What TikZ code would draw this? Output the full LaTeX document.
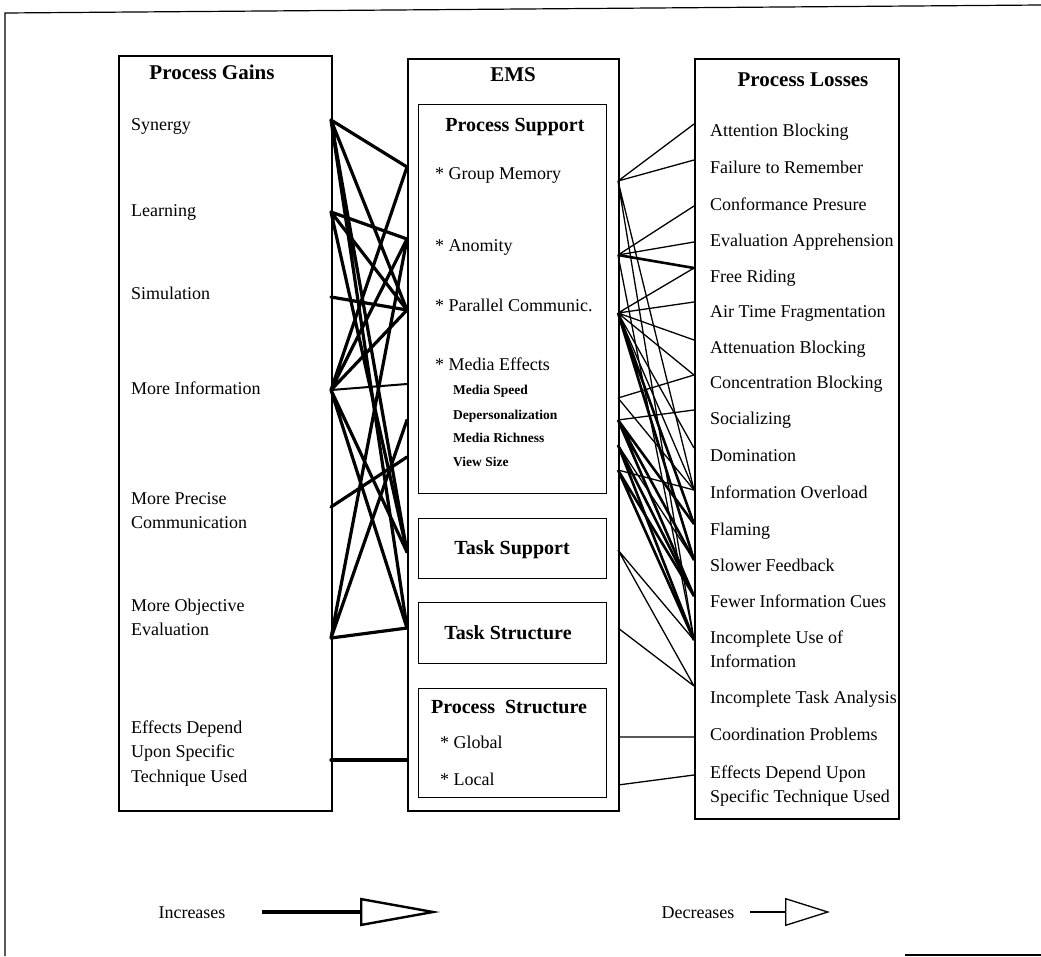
\documentclass[tikz,border=0pt]{standalone}
\usepackage{fontspec}
\setmainfont{Liberation Serif}
\usetikzlibrary{arrows.meta,positioning,calc}
\tikzset{
    panel/.style={draw,line width=1.6pt,inner sep=0pt},
    subpanel/.style={draw,line width=1.4pt,inner sep=0pt},
    head/.style={font=\fontsize{21}{24}\selectfont\bfseries,inner sep=0pt,anchor=base},
    subhead/.style={font=\fontsize{20}{23}\selectfont\bfseries,inner sep=0pt,anchor=base},
    item/.style={font=\fontsize{18}{24.5}\selectfont,align=left,inner sep=0pt,anchor=base west},
    smallitem/.style={font=\fontsize{13.5}{16}\selectfont\bfseries,inner sep=0pt,anchor=base west},
    gain/.style={line width=3.2pt,line cap=round},
    thingain/.style={line width=2pt},
    loss/.style={line width=1.3pt},
    heavyloss/.style={line width=2.6pt}
}

\begin{document}
\begin{tikzpicture}[x=1pt,y=-1pt]
    \useasboundingbox (0,0) rectangle (1041,956);
    % frame
    \draw[line width=1.2pt] (5,956) -- (5,13) -- (1041,5);
    \draw[line width=1.2pt] (905,955) -- (1041,955);

    % columns
    \node[panel,anchor=north west,minimum width=213pt,minimum height=755pt] (gains) at (118,55) {};
    \node[panel,anchor=north west,minimum width=211pt,minimum height=752pt] (ems) at (407,58) {};
    \node[panel,anchor=north west,minimum width=204pt,minimum height=760pt] (losses) at (694,58) {};
    \node[subpanel,anchor=north west,minimum width=188pt,minimum height=389pt] (psup) at (418,104) {};
    \node[subpanel,anchor=north west,minimum width=188pt,minimum height=60pt] (tsup) at (418,518) {};
    \node[subpanel,anchor=north west,minimum width=188pt,minimum height=61pt] (tstr) at (418,602) {};
    \node[subpanel,anchor=north west,minimum width=188pt,minimum height=109pt] (pstr) at (418,688) {};

    % process gains (multi-line texts sit on their last baseline)
    \node[head] (gainsT) at (212,79) {Process Gains};
    \node[item] (syn) at (131,130) {Synergy};
    \node[item] (lea) at (131,216) {Learning};
    \node[item] (sim) at (131,299) {Simulation};
    \node[item] (minf) at (131,394) {More Information};
    \node[item] (mpc) at (131,528.5) {More Precise\\Communication};
    \node[item] (moe) at (131,635.5) {More Objective\\Evaluation};
    \node[item] (geff) at (131,782) {Effects Depend\\Upon Specific\\Technique Used};

    % EMS
    \node[head] (emsT) at (513,81) {EMS};
    \node[subhead] (psupT) at (515,131) {Process Support};
    \node[item] (gmem) at (435,179) {* Group Memory};
    \node[item] (anon) at (435,251) {* Anomity};
    \node[item] (par) at (435,311) {* Parallel Communic.};
    \node[item] (med) at (435,370) {* Media Effects};
    \node[smallitem] (mspd) at (453,394) {Media Speed};
    \node[smallitem] (depr) at (453,419) {Depersonalization};
    \node[smallitem] (mrich) at (453,442) {Media Richness};
    \node[smallitem] (vsize) at (453,466) {View Size};
    \node[subhead] (tsupT) at (512,554) {Task Support};
    \node[subhead] (tstrT) at (508,639) {Task Structure};
    \node[subhead] (pstrT) at (509,713) {Process~~Structure};
    \node[item] (glob) at (440,748) {* Global};
    \node[item] (loc) at (440,785) {* Local};

    % process losses
    \node[head] (lossesT) at (803,86) {Process Losses};
    \node[item] (att) at (710,136) {Attention Blocking};
    \node[item] (fai) at (710,173) {Failure to Remember};
    \node[item] (con) at (710,210) {Conformance Presure};
    \node[item] (eva) at (710,246) {Evaluation Apprehension};
    \node[item] (fre) at (710,282) {Free Riding};
    \node[item] (air) at (710,317) {Air Time Fragmentation};
    \node[item] (atn) at (710,353) {Attenuation Blocking};
    \node[item] (cnc) at (710,388) {Concentration Blocking};
    \node[item] (soc) at (710,424) {Socializing};
    \node[item] (dom) at (710,461) {Domination};
    \node[item] (iov) at (710,498) {Information Overload};
    \node[item] (fla) at (710,535) {Flaming};
    \node[item] (slo) at (710,571) {Slower Feedback};
    \node[item] (few) at (710,607) {Fewer Information Cues};
    \node[item] (use) at (710,667.5) {Incomplete Use of\\Information};
    \node[item] (tsk) at (710,703) {Incomplete Task Analysis};
    \node[item] (coo) at (710,740) {Coordination Problems};
    \node[item] (leff) at (710,802.5) {Effects Depend Upon\\Specific Technique Used};

    % ports
    \coordinate (gSyn) at (331,120);
    \coordinate (gLea) at (331,212);
    \coordinate (gSim) at (331,297);
    \coordinate (gInf) at (331,390);
    \coordinate (gPre) at (331,507);
    \coordinate (gObj) at (331,638);
    \coordinate (gEff) at (331,760);
    \coordinate (eL1) at (407,167);
    \coordinate (eL2) at (407,239);
    \coordinate (eL3) at (407,310);
    \coordinate (eL4) at (407,384);
    \coordinate (eL5) at (407,420);
    \coordinate (eL6) at (407,457);
    \coordinate (eL7) at (407,552);
    \coordinate (eL8) at (407,628);
    \coordinate (eL9) at (407,760);
    \coordinate (eR1) at (618,181);
    \coordinate (eR2) at (618,255);
    \coordinate (eR3) at (618,313);
    \coordinate (eR4) at (618,398);
    \coordinate (eR5) at (618,420);
    \coordinate (eR6) at (618,445);
    \coordinate (eR7) at (618,470);
    \coordinate (eR8) at (618,550);
    \coordinate (eR9) at (618,628);
    \coordinate (eR10) at (618,737);
    \coordinate (eR11) at (618,785);
    \coordinate (lAtt) at (694,124);
    \coordinate (lFai) at (694,160);
    \coordinate (lCon) at (694,206);
    \coordinate (lEva) at (694,242);
    \coordinate (lFre) at (694,268);
    \coordinate (lAir) at (694,302);
    \coordinate (lAtn) at (694,340);
    \coordinate (lCnc) at (694,375);
    \coordinate (lSoc) at (694,410);
    \coordinate (lDom) at (694,448);
    \coordinate (lInf) at (694,490);
    \coordinate (lFla) at (694,524);
    \coordinate (lSlo) at (694,560);
    \coordinate (lFew) at (694,596);
    \coordinate (lUse) at (694,640);
    \coordinate (lTsk) at (694,686);
    \coordinate (lCoo) at (694,737);
    \coordinate (lEff) at (694,775);

    % increases
    \draw[gain] (gSyn) -- (eL1) (gSyn) -- (eL3) (gSyn) -- (eL7) (gSyn) -- (eL8);
    \draw[gain] (gLea) -- (eL2) (gLea) -- (eL3) (gLea) -- (eL7);
    \draw[gain] (gSim) -- (eL3);
    \draw[gain] (gInf) -- (eL1) (gInf) -- (eL2) (gInf) -- (eL3) (gInf) -- (eL7) (gInf) -- (eL8);
    \draw[thingain] (gInf) -- (eL4);
    \draw[gain] (gPre) -- (eL6);
    \draw[gain] (gObj) -- (eL2) (gObj) -- (eL5) (gObj) -- (eL8);
    \draw[gain] (gEff) -- (eL9);

    % decreases
    \draw[loss] (eR1) -- (lAtt) (eR1) -- (lFai) (eR1) -- (lInf) (eR1) -- (lUse);
    \draw[loss] (eR2) -- (lCon) (eR2) -- (lEva) (eR2) -- (lUse);
    \draw[heavyloss] (eR2) -- (lFre);
    \draw[loss] (eR3) -- (lFre) (eR3) -- (lAir) (eR3) -- (lAtn) (eR3) -- (lCnc) (eR3) -- (lDom) (eR3) -- (lInf);
    \draw[heavyloss] (eR3) -- (lFla) (eR3) -- (lSlo);
    \draw[loss] (eR4) -- (lCnc) (eR4) -- (lInf);
    \draw[loss] (eR5) -- (lSoc);
    \draw[heavyloss] (eR5) -- (lFla) (eR5) -- (lSlo) (eR5) -- (lFew);
    \draw[heavyloss] (eR6) -- (lFew) (eR6) -- (lUse);
    \draw[loss] (eR6) -- (lSlo) (eR7) -- (lInf);
    \draw[heavyloss] (eR7) -- (lFew) (eR7) -- (lUse);
    \draw[loss] (eR8) -- (lUse) (eR8) -- (lTsk) (eR9) -- (lTsk);
    \draw[loss] (eR10) -- (lCoo) (eR11) -- (lEff);

    % legend
    \node[item,anchor=base] (inc) at (192,918) {Increases};
    \node[item,anchor=base] (dec) at (698,918) {Decreases};
    \coordinate (incA) at (262,912);
    \coordinate (incB) at (440,912);
    \coordinate (decA) at (750,912);
    \coordinate (decB) at (830,912);
    \draw[line width=3.5pt,-{Triangle[open,length=80pt,width=28pt,line width=2.4pt]}] (incA) -- (incB);
    \draw[loss,-{Triangle[open,length=45pt,width=28pt,line width=1.3pt]}] (decA) -- (decB);
\end{tikzpicture}
\end{document}
